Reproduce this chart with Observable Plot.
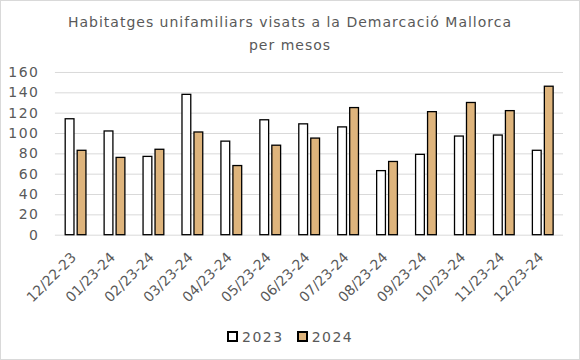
<!DOCTYPE html>
<html><head><meta charset="utf-8">
<script src="https://cdn.jsdelivr.net/npm/d3@7"></script>
<script src="https://cdn.jsdelivr.net/npm/@observablehq/plot@0.6"></script>
<style>
html,body{margin:0;padding:0;background:#fff;}
#frame{position:relative;width:580px;height:360px;box-sizing:border-box;border:1px solid #d9d9d9;overflow:hidden;font-family:"DejaVu Sans",sans-serif;color:#595959;background:#fff;}
#title{position:absolute;top:10px;left:-1px;width:580px;text-align:center;font-size:14px;line-height:23px;letter-spacing:1px;}
#chart{position:absolute;left:-1px;top:59px;}
#legend{position:absolute;top:319px;left:227px;}
#legend svg{margin-right:5px !important;}
#legend svg rect{stroke:#000;stroke-width:2px;}
#legend span{letter-spacing:1.5px;margin-right:14px !important;}
#chart svg g[aria-label^="y-axis"] text{letter-spacing:1.5px;}
</style></head><body>
<div id="frame">
<div id="title">Habitatges unifamiliars visats a la Demarcació Mallorca<br>per mesos</div>
<div id="chart"></div>
<div id="legend"></div>
</div>
<script>
const months = ["12/22-23","01/23-24","02/23-24","03/23-24","04/23-24","05/23-24","06/23-24","07/23-24","08/23-24","09/23-24","10/23-24","11/23-24","12/23-24"];
const series = ["2023","2024"];
const values2023 = [114,102,77,138,92,113,109,106,63,79,97,98,83];
const values2024 = [83,76,84,101,68,88,95,125,72,121,130,122,146];
const yTicks = [0,20,40,60,80,100,120,140,160];

const rows2023 = months.map((m,i)=>({month:m, year:series[0], value:values2023[i]}));
const rows2024 = months.map((m,i)=>({month:m, year:series[1], value:values2024[i]}));

const plot = Plot.plot({
  width: 580,
  height: 260,
  marginTop: 12,
  marginBottom: 85,
  marginLeft: 55,
  marginRight: 16,
  style: {fontFamily: "DejaVu Sans, sans-serif", fontSize: "14px", color: "#595959", background: "transparent"},
  x: {domain: months, padding: 0, label: null},
  y: {domain: [0,160], label: null},
  color: {domain: series, range: ["#ffffff","#deb47c"]},
  marks: [
    Plot.ruleY(yTicks, {stroke: "#d9d9d9", strokeWidth: 1}),
    Plot.axisY(yTicks, {tickSize: 0, tickPadding: 16, label: null}),
    Plot.axisX({tickRotate: -45, tickSize: 0, tickPadding: 10, dy: 10, dx: -2, label: null}),
    Plot.barY(rows2023, {x: "month", y: "value", fill: "year", stroke: "#000", strokeWidth: 1.3, insetLeft: 9.3, insetRight: 20.9}),
    Plot.barY(rows2024, {x: "month", y: "value", fill: "year", stroke: "#000", strokeWidth: 1.3, insetLeft: 21.3, insetRight: 8.9})
  ]
});
document.getElementById("chart").appendChild(plot);
const leg = plot.legend("color", {swatchSize: 9, style: {fontFamily: "DejaVu Sans, sans-serif", fontSize: "14px", color: "#595959"}});
document.getElementById("legend").appendChild(leg);
</script>
</body></html>
